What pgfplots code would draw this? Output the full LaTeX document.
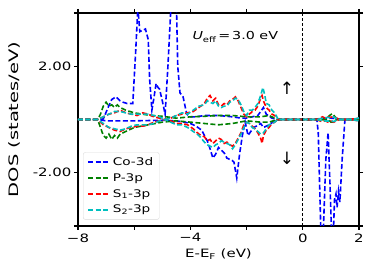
\documentclass[border=0pt]{standalone}
\usepackage{fontspec}
\setmainfont{DejaVu Sans}[FakeStretch=1.3]
\newfontfamily\ylabfont{DejaVu Sans}[FakeStretch=1.5]
\newfontfamily\plainfont{DejaVu Sans}
\usepackage{pgfplots}
\pgfplotsset{compat=1.18}
\definecolor{mplgreen}{rgb}{0,0.5,0}
\definecolor{mplcyan}{rgb}{0,0.75,0.75}
\begin{document}
\begin{tikzpicture}
\begin{axis}[
  scale only axis,
  width=281pt, height=213pt,
  xmin=-8, xmax=2, ymin=-4, ymax=4,
  xtick={-8,-6,-4,-2,0,2},
  xticklabels={−8,,−4,,0,2},
  ytick={-4,-2,2,4},
  yticklabels={,-2.00,2.00,},
  tick align=outside, tick pos=both,
  major tick length=4pt,
  every tick/.style={black, line width=1.1pt},
  axis line style={line width=1.6pt},
  ticklabel style={font=\fontsize{11.5}{13}\selectfont},
  yticklabel style={xshift=1pt},
  xlabel={E-E\textsubscript{F} (eV)},
  ylabel={\ylabfont DOS (states/eV)},
  xlabel style={font=\fontsize{11.5}{13}\selectfont, at={(axis description cs:0.5,-0.131)}, anchor=center},
  ylabel style={font=\fontsize{13}{15}\selectfont, at={(axis description cs:-0.228,0.5)}, anchor=center},
  clip=true,
  legend style={at={(0.018,0.03)}, anchor=south west, draw=black!15, rounded corners=2pt,
    fill=white, fill opacity=0.8, text opacity=1,
    font=\fontsize{10.5}{12}\selectfont, row sep=2.5pt, inner xsep=4pt, inner ysep=3pt},
  legend cell align=left,
  legend image code/.code={\draw[#1] (0pt,0pt) -- (22pt,0pt);},
  every axis plot/.append style={line width=1.6pt, dash pattern=on 5pt off 2.5pt},
]
% Co-3d
\addplot[blue] coordinates {(-8,0)(-7.3,0)(-7.1,0.02)(-6.95,0.4)(-6.8,0.75)(-6.65,0.85)(-6.5,0.7)(-6.4,0.65)(-6.25,0.6)(-6.05,0.6)(-5.95,2.5)(-5.87,4.2)(-5.8,3.3)(-5.7,3.35)(-5.6,3.4)(-5.5,3.0)(-5.45,1.5)(-5.37,0.35)(-5.3,0.8)(-5.22,1.35)(-5.15,1.2)(-5.1,1.15)(-5.0,0.7)(-4.9,0.2)(-4.8,2.0)(-4.68,4.5)(-4.5,4.5)(-4.45,2.0)(-4.37,1.0)(-4.26,0.85)(-4.13,0.2)(-4.0,0.1)(-3.8,0.1)(-3.5,0.15)(-3.0,0.15)(-2.5,0.1)(-2.2,0.05)(-2.0,0.05)(-1.8,0.1)(-1.6,0.15)(-1.4,0.45)(-1.3,0.2)(-1.1,0.05)(-0.9,0)(0.4,0)(0.6,0.03)(1.0,0.05)(1.5,0)(2,0)};
\addlegendentry{Co-3d}
\addplot[blue, forget plot] coordinates {(-8,0)(-7.3,0)(-7.0,-0.05)(-6.0,-0.05)(-5.0,-0.03)(-4.5,-0.05)(-4.2,-0.1)(-4.0,-0.15)(-3.8,-0.25)(-3.6,-0.4)(-3.5,-0.6)(-3.4,-0.8)(-3.3,-1.1)(-3.2,-1.45)(-3.1,-1.3)(-3.0,-1.05)(-2.9,-1.15)(-2.8,-1.25)(-2.7,-1.45)(-2.6,-1.5)(-2.5,-1.55)(-2.45,-1.6)(-2.35,-2.2)(-2.25,-1.3)(-2.15,-0.6)(-2.05,-0.1)(-1.95,-0.6)(-1.85,-0.45)(-1.75,-0.3)(-1.65,-0.25)(-1.5,-0.15)(-1.4,-0.3)(-1.2,-0.2)(-1.0,-0.05)(-0.9,0)(0.5,0)(0.55,-0.5)(0.65,-4.5)(0.72,-4.5)(0.82,-1.5)(0.9,-0.5)(0.97,-2.5)(1.03,-4.5)(1.08,-4.5)(1.13,-3.0)(1.18,-2.8)(1.22,-3.3)(1.27,-2.7)(1.32,-3.1)(1.4,-1.5)(1.5,0)(2,0)};
% P-3p
\addplot[mplgreen] coordinates {(-8,0)(-7.3,0)(-7.2,0.2)(-7.1,0.5)(-7.0,0.65)(-6.9,0.5)(-6.8,0.55)(-6.7,0.45)(-6.6,0.55)(-6.5,0.45)(-6.3,0.35)(-6.0,0.25)(-5.7,0.2)(-5.4,0.15)(-5.0,0.12)(-4.5,0.05)(-4.0,0.1)(-3.5,0.12)(-3.0,0.15)(-2.5,0.15)(-2.0,0.1)(-1.5,0.1)(-1.2,0.15)(-1.0,0.05)(-0.9,0)(0.8,0)(0.95,0.15)(1.05,0.22)(1.15,0.1)(1.25,0)(2,0)};
\addlegendentry{P-3p}
\addplot[mplgreen, forget plot] coordinates {(-8,0)(-7.3,0)(-7.2,-0.3)(-7.1,-0.6)(-7.0,-0.7)(-6.9,-0.55)(-6.8,-0.75)(-6.7,-0.6)(-6.6,-0.7)(-6.5,-0.55)(-6.3,-0.45)(-6.0,-0.3)(-5.5,-0.2)(-5.0,-0.1)(-4.5,-0.05)(-4.0,-0.1)(-3.5,-0.15)(-3.0,-0.2)(-2.5,-0.15)(-2.0,-0.05)(-1.5,-0.1)(-1.2,-0.1)(-0.9,0)(0.9,0)(1.0,-0.1)(1.1,-0.1)(1.2,0)(2,0)};
% S1-3p
\addplot[red] coordinates {(-8,0)(-7.3,0)(-7.1,0.1)(-6.9,0.2)(-6.7,0.25)(-6.5,0.35)(-6.3,0.25)(-6.1,0.2)(-5.9,0.15)(-5.7,0.25)(-5.5,0.2)(-5.3,0.1)(-5.1,0.05)(-4.9,0.0)(-4.7,0.05)(-4.5,0.15)(-4.3,0.2)(-4.1,0.25)(-3.9,0.3)(-3.7,0.45)(-3.5,0.6)(-3.4,0.8)(-3.3,0.9)(-3.2,0.7)(-3.1,0.8)(-3.0,0.55)(-2.9,0.5)(-2.8,0.6)(-2.7,0.55)(-2.6,0.7)(-2.5,0.75)(-2.4,0.85)(-2.3,0.7)(-2.2,0.45)(-2.1,0.2)(-2.0,0.1)(-1.9,0.2)(-1.8,0.3)(-1.7,0.35)(-1.6,0.5)(-1.5,0.8)(-1.45,0.9)(-1.4,0.7)(-1.3,0.45)(-1.2,0.35)(-1.1,0.2)(-1.0,0.15)(-0.9,0)(0.5,0)(0.6,0.05)(0.7,0.1)(0.8,0.05)(0.9,0.1)(1.0,0.08)(1.1,0.12)(1.2,0.05)(1.3,0)(1.5,0)(1.8,0.02)(2,0.05)};
\addlegendentry{S\textsubscript{1}-3p}
\addplot[red, forget plot] coordinates {(-8,0)(-7.3,0)(-7.1,-0.2)(-6.9,-0.3)(-6.7,-0.4)(-6.5,-0.45)(-6.3,-0.35)(-6.1,-0.3)(-5.9,-0.25)(-5.7,-0.25)(-5.5,-0.2)(-5.3,-0.1)(-5.1,-0.05)(-4.9,0)(-4.7,-0.05)(-4.5,-0.15)(-4.3,-0.15)(-4.1,-0.2)(-3.9,-0.35)(-3.7,-0.55)(-3.5,-0.65)(-3.4,-0.8)(-3.3,-0.75)(-3.2,-0.9)(-3.1,-0.8)(-3.0,-0.7)(-2.9,-0.75)(-2.8,-0.9)(-2.7,-0.85)(-2.6,-0.95)(-2.5,-1.0)(-2.4,-0.9)(-2.3,-0.7)(-2.2,-0.5)(-2.1,-0.2)(-2.0,-0.1)(-1.9,-0.15)(-1.8,-0.25)(-1.7,-0.35)(-1.6,-0.5)(-1.5,-0.7)(-1.45,-0.9)(-1.4,-0.6)(-1.3,-0.4)(-1.2,-0.3)(-1.1,-0.15)(-1.0,-0.1)(-0.9,0)(0.5,0)(0.6,-0.05)(0.7,-0.08)(0.8,-0.05)(0.9,-0.1)(1.0,-0.06)(1.1,-0.1)(1.2,-0.05)(1.3,0)(1.5,0)(1.8,-0.02)(2,-0.05)};
% S2-3p
\addplot[mplcyan] coordinates {(-8,0)(-7.3,0)(-7.1,0.1)(-6.9,0.2)(-6.7,0.3)(-6.5,0.3)(-6.3,0.25)(-6.1,0.2)(-5.9,0.2)(-5.7,0.2)(-5.5,0.2)(-5.3,0.15)(-5.1,0.1)(-4.9,0.0)(-4.7,0.05)(-4.5,0.15)(-4.3,0.25)(-4.1,0.2)(-3.9,0.35)(-3.7,0.5)(-3.5,0.55)(-3.4,0.7)(-3.3,0.65)(-3.2,0.6)(-3.1,0.7)(-3.0,0.5)(-2.9,0.45)(-2.8,0.5)(-2.7,0.5)(-2.6,0.65)(-2.5,0.7)(-2.4,0.8)(-2.3,0.75)(-2.2,0.55)(-2.1,0.3)(-2.0,0.15)(-1.9,0.35)(-1.8,0.35)(-1.7,0.45)(-1.6,0.6)(-1.5,0.9)(-1.42,1.2)(-1.35,0.9)(-1.3,0.6)(-1.2,0.55)(-1.1,0.35)(-1.0,0.25)(-0.9,0.05)(-0.85,0)(0.5,0)(0.7,0.05)(0.9,0.08)(1.0,0.05)(1.1,0.1)(1.2,0.04)(1.3,0)(1.6,0)(1.9,0.03)(2,0.06)};
\addlegendentry{S\textsubscript{2}-3p}
\addplot[mplcyan, forget plot] coordinates {(-8,0)(-7.3,0)(-7.1,-0.15)(-6.9,-0.3)(-6.7,-0.35)(-6.5,-0.4)(-6.3,-0.35)(-6.1,-0.25)(-5.9,-0.2)(-5.7,-0.2)(-5.5,-0.2)(-5.3,-0.15)(-5.1,-0.05)(-4.9,0)(-4.7,-0.1)(-4.5,-0.2)(-4.3,-0.2)(-4.1,-0.3)(-3.9,-0.45)(-3.7,-0.6)(-3.5,-0.85)(-3.4,-0.95)(-3.3,-1.0)(-3.2,-1.05)(-3.1,-0.95)(-3.0,-0.9)(-2.9,-0.8)(-2.8,-0.85)(-2.7,-0.9)(-2.6,-0.95)(-2.5,-1.1)(-2.4,-0.95)(-2.3,-0.75)(-2.2,-0.55)(-2.1,-0.3)(-2.0,-0.1)(-1.9,-0.15)(-1.8,-0.3)(-1.7,-0.35)(-1.6,-0.45)(-1.5,-0.55)(-1.4,-0.5)(-1.3,-0.35)(-1.2,-0.2)(-1.1,-0.15)(-1.0,-0.1)(-0.9,0)(0.5,0)(0.7,-0.05)(0.9,-0.06)(1.0,-0.04)(1.1,-0.08)(1.2,-0.03)(1.3,0)(1.6,0)(1.9,-0.03)(2,-0.06)};
% Fermi level
\addplot[black, line width=0.8pt, dash pattern=on 3pt off 2pt, forget plot] coordinates {(0,-4)(0,4)};
\node[anchor=west, font=\fontsize{11}{13}\selectfont] at (axis cs:-4.05,3.1) {\itshape U\upshape\textsubscript{eff}\,=\,3.0 eV};
\node[font=\plainfont\fontsize{17}{19}\selectfont] at (axis cs:-0.56,1.17) {↑};
\node[font=\plainfont\fontsize{17}{19}\selectfont] at (axis cs:-0.56,-1.45) {↓};
\end{axis}
\pgfresetboundingbox
\path ([shift={(-78pt,-54pt)}]current axis.south west) rectangle ([shift={(15pt,13pt)}]current axis.north east);
\end{tikzpicture}
\end{document}
